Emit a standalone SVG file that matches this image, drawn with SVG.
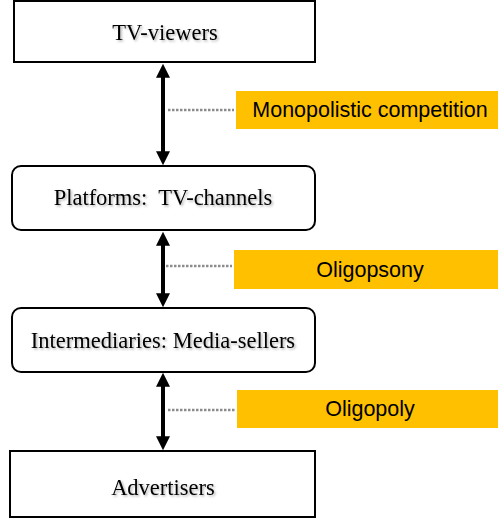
<svg xmlns="http://www.w3.org/2000/svg" width="498" height="520" viewBox="0 0 498 520">
  <style>
    .box { fill: #ffffff; stroke: #000000; stroke-width: 2; }
    .lbl { font-family: "Liberation Serif", "Times New Roman", serif; font-size: 22.5px; fill: #000000; text-anchor: middle; filter: url(#sh); }
    .tag { fill: #FFC000; }
    .tagt { font-family: "Liberation Sans", Arial, sans-serif; font-size: 21.5px; fill: #000000; text-anchor: middle; }
    .arrow { stroke: #000000; stroke-width: 4; fill: none; marker-start: url(#ah); marker-end: url(#ah); }
    .dot { stroke: #8c8c8c; stroke-width: 2.5; stroke-dasharray: 2.5 1.5; fill: none; }
  </style>
  <defs>
    <marker id="ah" viewBox="0 0 10 10" refX="7" refY="5" markerWidth="3.5" markerHeight="3.5" markerUnits="strokeWidth" orient="auto-start-reverse">
      <path d="M0,0 L10,5 L0,10 z" fill="#000000"/>
    </marker>
    <filter id="sh" x="-10%" y="-30%" width="120%" height="160%">
      <feDropShadow dx="1.5" dy="1.5" stdDeviation="1" flood-color="#000000" flood-opacity="0.3"/>
    </filter>
  </defs>

  <g id="connectors">
    <line class="arrow" x1="163" y1="68" x2="163" y2="161"/>
    <line class="arrow" x1="163" y1="236" x2="163" y2="303"/>
    <line class="arrow" x1="163" y1="377" x2="163" y2="446"/>
    <line class="dot" x1="168" y1="110" x2="234" y2="110"/>
    <line class="dot" x1="166" y1="266" x2="232" y2="266"/>
    <line class="dot" x1="168" y1="410" x2="235" y2="410"/>
  </g>

  <g id="tv-viewers">
    <rect class="box" x="14" y="1" width="301" height="61"/>
    <text class="lbl" x="165" y="40">TV-viewers</text>
  </g>

  <g id="platforms">
    <rect class="box" x="12" y="166" width="303" height="64" rx="9"/>
    <text class="lbl" x="163" y="205" xml:space="preserve">Platforms:  TV-channels</text>
  </g>

  <g id="intermediaries">
    <rect class="box" x="12" y="308" width="303" height="64" rx="9"/>
    <text class="lbl" x="163" y="348">Intermediaries: Media-sellers</text>
  </g>

  <g id="advertisers">
    <rect class="box" x="10" y="451" width="305" height="66"/>
    <text class="lbl" x="163" y="495">Advertisers</text>
  </g>

  <g id="monopolistic-competition">
    <rect class="tag" x="236" y="91" width="262" height="38"/>
    <text class="tagt" x="370" y="117">Monopolistic competition</text>
  </g>

  <g id="oligopsony">
    <rect class="tag" x="234" y="250" width="264" height="39"/>
    <text class="tagt" x="370" y="277">Oligopsony</text>
  </g>

  <g id="oligopoly">
    <rect class="tag" x="237" y="390" width="261" height="38"/>
    <text class="tagt" x="370" y="416">Oligopoly</text>
  </g>
</svg>
